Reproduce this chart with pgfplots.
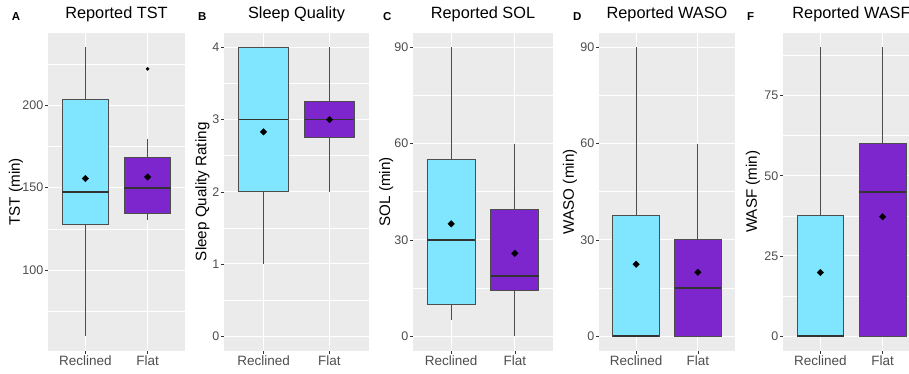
\documentclass[border=0pt]{standalone}
\usepackage{fontspec}
\setmainfont{Liberation Sans}
\usepackage{pgfplots}
\pgfplotsset{compat=1.18}
\usepgfplotslibrary{statistics}
\definecolor{recl}{HTML}{80E5FF}
\definecolor{flatc}{HTML}{7D26CD}
\definecolor{panelbg}{HTML}{EBEBEB}
\definecolor{tickgray}{HTML}{4D4D4D}
\definecolor{boxline}{HTML}{4D4D4D}
\definecolor{medline}{HTML}{333333}
\pgfplotsset{
  panel/.style={
    scale only axis, height=317.5pt,
    xmin=0.4, xmax=2.6, xtick={1,2}, xticklabels={Reclined,Flat},
    axis background/.style={fill=panelbg},
    axis line style={draw=none},
    xmajorgrids=true, ymajorgrids=true, yminorgrids=true,
    major grid style={white, line width=1.1pt},
    minor grid style={white, line width=0.55pt},
    tick align=outside, xtick pos=bottom, ytick pos=left,
    major tick length=3pt, minor tick length=0pt,
    tick style={medline, line width=0.5pt},
    ticklabel style={font=\fontsize{12.5}{15}\selectfont, text=tickgray, inner sep=1.5pt},
    xticklabel style={font=\fontsize{13.5}{15}\selectfont, inner sep=2pt},
    /pgf/number format/assume math mode=true,
    title style={font=\fontsize{16.3}{19}\selectfont, at={(axis description cs:0.5,1)}, anchor=base, yshift=9pt},
    ylabel style={font=\fontsize{15.2}{18}\selectfont, anchor=base},
    boxplot/draw direction=y,
    boxplot/every median/.style={draw=medline, line width=1.8pt},
  },
  rbox/.style={fill=recl, draw=boxline, line width=1pt},
  fbox/.style={fill=flatc, draw=boxline, line width=1pt},
  meanpt/.style={only marks, mark=square*, mark size=2.3pt, mark options={rotate=45, fill=black, draw=black}},
}
\begin{document}
\begin{tikzpicture}
\useasboundingbox (0,0) rectangle (909pt,373pt);
\clip (0,0) rectangle (909pt,373pt);

% Panel A
\begin{axis}[panel, at={(48pt,22.5pt)}, anchor=south west, width=137pt,
  title={Reported TST}, ylabel={TST (min)},
  ylabel style={at={(axis description cs:-0.205,0.5)}},
  ymin=51.25, ymax=243.75, ytick={100,150,200}, minor ytick={75,125,175,225}]
\addplot[rbox, boxplot prepared={draw position=1, lower whisker=60, lower quartile=127.7, median=147.4, upper quartile=203.5, upper whisker=235, box extend=0.75, whisker extend=0}] coordinates {};
\addplot[fbox, boxplot prepared={draw position=2, lower whisker=130.3, lower quartile=134.3, median=150, upper quartile=168.4, upper whisker=179.5, box extend=0.75, whisker extend=0}] coordinates {};
\addplot[only marks, mark=*, mark size=1.6pt, black] coordinates {(2,222)};
\addplot[meanpt] coordinates {(1,155.5) (2,156.4)};
\end{axis}

% Panel B
\begin{axis}[panel, at={(224pt,22.5pt)}, anchor=south west, width=145pt,
  title={Sleep Quality}, ylabel={Sleep Quality Rating},
  ylabel style={at={(axis description cs:-0.122,0.5)}},
  ymin=-0.2, ymax=4.2, ytick={0,1,2,3,4}, minor ytick={0.5,1.5,2.5,3.5}]
\addplot[rbox, boxplot prepared={draw position=1, lower whisker=1, lower quartile=2, median=3, upper quartile=4, upper whisker=4, box extend=0.75, whisker extend=0}] coordinates {};
\addplot[fbox, boxplot prepared={draw position=2, lower whisker=2, lower quartile=2.75, median=3, upper quartile=3.25, upper whisker=4, box extend=0.75, whisker extend=0}] coordinates {};
\addplot[meanpt] coordinates {(1,2.83) (2,3.0)};
\end{axis}

% Panel C
\begin{axis}[panel, at={(413pt,22.5pt)}, anchor=south west, width=140pt,
  title={Reported SOL}, ylabel={SOL (min)},
  ylabel style={at={(axis description cs:-0.163,0.5)}},
  ymin=-4.5, ymax=94.5, ytick={0,30,60,90}, minor ytick={15,45,75}]
\addplot[rbox, boxplot prepared={draw position=1, lower whisker=5, lower quartile=10, median=30, upper quartile=55, upper whisker=90, box extend=0.75, whisker extend=0}] coordinates {};
\addplot[fbox, boxplot prepared={draw position=2, lower whisker=0, lower quartile=14.3, median=18.7, upper quartile=39.5, upper whisker=60, box extend=0.75, whisker extend=0}] coordinates {};
\addplot[meanpt] coordinates {(1,35.0) (2,25.8)};
\end{axis}

% Panel D
\begin{axis}[panel, at={(599pt,22.5pt)}, anchor=south west, width=136pt,
  title={Reported WASO}, ylabel={WASO (min)},
  ylabel style={at={(axis description cs:-0.185,0.5)}},
  ymin=-4.5, ymax=94.5, ytick={0,30,60,90}, minor ytick={15,45,75}]
\addplot[rbox, boxplot prepared={draw position=1, lower whisker=0, lower quartile=0, median=0, upper quartile=37.5, upper whisker=90, box extend=0.75, whisker extend=0}] coordinates {};
\addplot[fbox, boxplot prepared={draw position=2, lower whisker=0, lower quartile=0, median=15, upper quartile=30, upper whisker=60, box extend=0.75, whisker extend=0}] coordinates {};
\addplot[meanpt] coordinates {(1,22.4) (2,19.9)};
\end{axis}

% Panel F
\begin{axis}[panel, at={(783pt,22.5pt)}, anchor=south west, width=137pt,
  title={Reported WASF}, ylabel={WASF (min)},
  ylabel style={at={(axis description cs:-0.190,0.5)}},
  ymin=-4.5, ymax=94.5, ytick={0,25,50,75}, minor ytick={12.5,37.5,62.5,87.5}]
\addplot[rbox, boxplot prepared={draw position=1, lower whisker=0, lower quartile=0, median=0, upper quartile=37.5, upper whisker=90, box extend=0.75, whisker extend=0}] coordinates {};
\addplot[fbox, boxplot prepared={draw position=2, lower whisker=0, lower quartile=0, median=45, upper quartile=60, upper whisker=90, box extend=0.75, whisker extend=0}] coordinates {};
\addplot[meanpt] coordinates {(1,19.8) (2,37.2)};
\end{axis}

% Panel letters
\begin{scope}[every node/.style={anchor=base west, inner sep=0pt, font=\fontsize{11.5}{13}\selectfont\bfseries}]
\node at (11.7pt,352pt) {A};
\node at (198pt,352pt) {B};
\node at (383pt,352pt) {C};
\node at (573pt,352pt) {D};
\node at (747pt,352pt) {F};
\end{scope}
\end{tikzpicture}
\end{document}
